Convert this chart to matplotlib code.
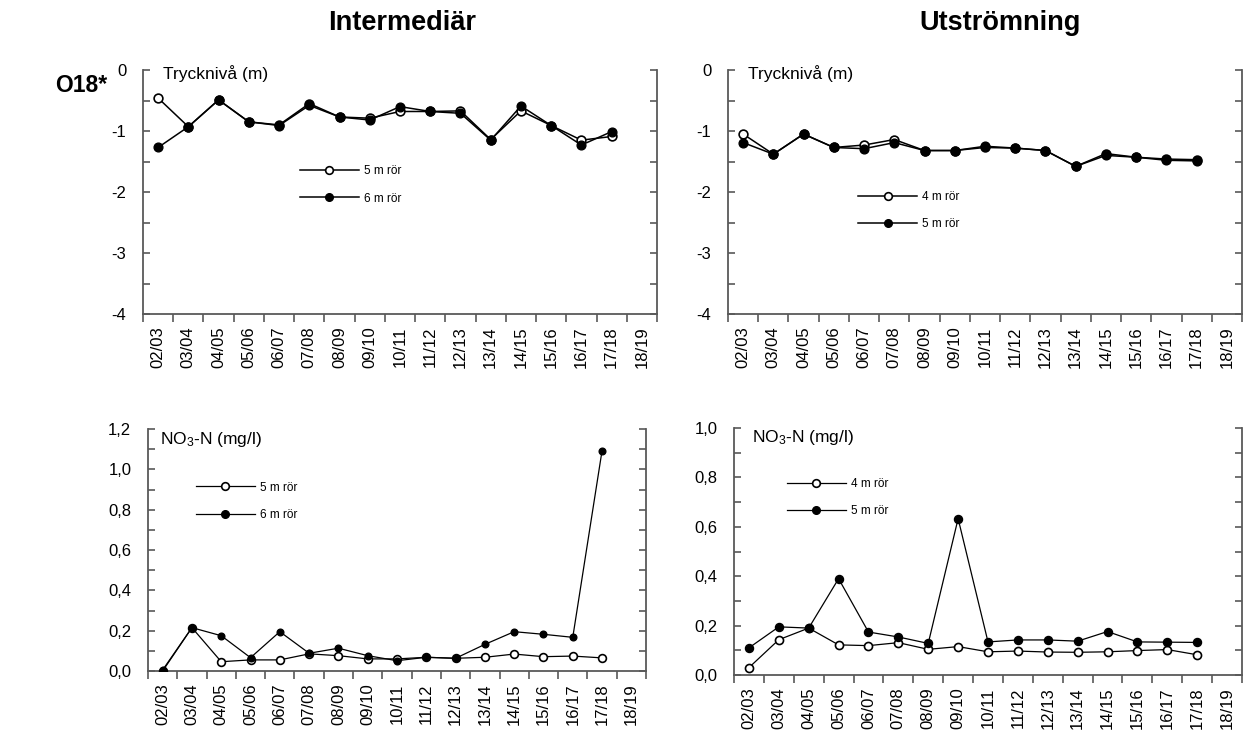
import numpy as np
import matplotlib
matplotlib.use("Agg")
import matplotlib.pyplot as plt
from matplotlib.ticker import MultipleLocator, FixedLocator, FuncFormatter

plt.rcParams['font.family'] = ['Liberation Sans', 'DejaVu Sans']
plt.rcParams['mathtext.fontset'] = 'custom'
plt.rcParams['mathtext.rm'] = 'Liberation Sans'
plt.rcParams['mathtext.it'] = 'Liberation Sans:italic'

years = ['02/03', '03/04', '04/05', '05/06', '06/07', '07/08', '08/09', '09/10',
         '10/11', '11/12', '12/13', '13/14', '14/15', '15/16', '16/17', '17/18', '18/19']

# Intermediär, trycknivå (m)
tryck_int_5m = [-0.46, -0.93, -0.49, -0.85, -0.90, -0.55, -0.77, -0.79,
                -0.68, -0.68, -0.67, -1.14, -0.67, -0.91, -1.15, -1.09]
tryck_int_6m = [-1.27, -0.93, -0.49, -0.85, -0.91, -0.58, -0.77, -0.82,
                -0.60, -0.68, -0.71, -1.15, -0.59, -0.91, -1.23, -1.01]

# Utströmning, trycknivå (m)
tryck_ut_4m = [-1.05, -1.38, -1.05, -1.27, -1.23, -1.14, -1.32, -1.32,
               -1.27, -1.28, -1.32, -1.58, -1.37, -1.43, -1.46, -1.47]
tryck_ut_5m = [-1.19, -1.38, -1.05, -1.27, -1.29, -1.19, -1.32, -1.32,
               -1.25, -1.28, -1.32, -1.58, -1.40, -1.43, -1.48, -1.49]

# Intermediär, NO3-N (mg/l)
no3_int_5m = [0.0, 0.215, 0.046, 0.055, 0.055, 0.085, 0.076, 0.060,
              0.060, 0.068, 0.063, 0.068, 0.084, 0.071, 0.074, 0.065]
no3_int_6m = [0.005, 0.215, 0.175, 0.066, 0.195, 0.088, 0.113, 0.076,
              0.051, 0.068, 0.063, 0.132, 0.195, 0.182, 0.167, 1.093]

# Utströmning, NO3-N (mg/l)
no3_ut_4m = [0.030, 0.143, 0.190, 0.122, 0.119, 0.131, 0.104, 0.115,
             0.094, 0.097, 0.093, 0.092, 0.094, 0.099, 0.103, 0.082]
no3_ut_5m = [0.110, 0.195, 0.190, 0.390, 0.174, 0.154, 0.128, 0.633,
             0.134, 0.142, 0.142, 0.137, 0.176, 0.134, 0.133, 0.132]

SPINE = '#595959'


def setup_axes(ax, ymin, ymax, major, minor, fmt):
    n = len(years)
    ax.set_xlim(0, n)
    ax.set_ylim(ymin, ymax)
    ax.spines['top'].set_visible(False)
    for s in ('left', 'right', 'bottom'):
        ax.spines[s].set_color(SPINE)
        ax.spines[s].set_linewidth(1.3)

    # category boundaries get the tick marks, centres get the labels
    ax.xaxis.set_major_locator(FixedLocator(np.arange(n + 1)))
    ax.xaxis.set_minor_locator(FixedLocator(np.arange(n) + 0.5))
    ax.set_xticklabels([''] * (n + 1))
    ax.set_xticklabels(years, minor=True, rotation=90, fontsize=12)
    ax.tick_params(axis='x', which='major', direction='out', length=6,
                   width=1.2, color=SPINE)
    ax.tick_params(axis='x', which='minor', length=0, pad=9)

    ax.yaxis.set_major_locator(MultipleLocator(major))
    ax.yaxis.set_minor_locator(MultipleLocator(minor))
    ax.yaxis.set_major_formatter(FuncFormatter(fmt))
    ax.tick_params(axis='y', which='both', direction='in', left=True,
                   right=True, length=5, width=1.2, color=SPINE,
                   labelsize=12, pad=12)


def fmt_int(v, pos):
    return '%d' % round(v)


def fmt_dec(v, pos):
    return ('%.1f' % v).replace('.', ',')


def plot_pair(ax, a, b, labels, ms_a, ms_b, lw, leg_xy):
    x = np.arange(len(a)) + 0.5
    ax.plot(x, a, '-o', color='black', lw=lw, ms=ms_a, mfc='white',
            mec='black', mew=1.2, label=labels[0], zorder=3)
    ax.plot(x, b, '-o', color='black', lw=lw, ms=ms_b, mfc='black',
            mec='black', label=labels[1], zorder=4)
    leg = ax.legend(loc='center left', bbox_to_anchor=leg_xy, frameon=False,
                    fontsize=8.5, handlelength=5.0, handletextpad=0.4,
                    labelspacing=1.3, borderpad=0, borderaxespad=0,
                    numpoints=1)
    for h in leg.legend_handles:
        h.set_markersize(5.5)


def main():
    fig = plt.figure(figsize=(12.5, 7.33), dpi=100)

    ax_tl = fig.add_axes([0.1144, 0.5716, 0.4112, 0.3329])
    ax_tr = fig.add_axes([0.5824, 0.5716, 0.4112, 0.3329])
    ax_bl = fig.add_axes([0.1184, 0.0846, 0.3984, 0.3300])
    ax_br = fig.add_axes([0.5872, 0.0791, 0.4064, 0.3370])

    setup_axes(ax_tl, -4, 0, 1, 0.5, fmt_int)
    setup_axes(ax_tr, -4, 0, 1, 0.5, fmt_int)
    setup_axes(ax_bl, 0, 1.2, 0.2, 0.1, fmt_dec)
    setup_axes(ax_br, 0, 1.0, 0.2, 0.1, fmt_dec)

    plot_pair(ax_tl, tryck_int_5m, tryck_int_6m, ['5 m rör', '6 m rör'],
              6.3, 6.3, 1.1, (0.305, 0.529))
    plot_pair(ax_tr, tryck_ut_4m, tryck_ut_5m, ['4 m rör', '5 m rör'],
              6.3, 6.3, 1.1, (0.253, 0.424))
    plot_pair(ax_bl, no3_int_5m, no3_int_6m, ['5 m rör', '6 m rör'],
              5.6, 4.8, 0.9, (0.096, 0.702))
    plot_pair(ax_br, no3_ut_4m, no3_ut_5m, ['4 m rör', '5 m rör'],
              5.8, 5.8, 0.9, (0.104, 0.719))

    ax_tl.text(0.039, 0.985, 'Trycknivå (m)', transform=ax_tl.transAxes,
               fontsize=12.5, va='center', ha='left')
    ax_tr.text(0.039, 0.985, 'Trycknivå (m)', transform=ax_tr.transAxes,
               fontsize=12.5, va='center', ha='left')
    ax_bl.text(0.024, 0.955, 'NO$_3$-N (mg/l)', transform=ax_bl.transAxes,
               fontsize=12.5, va='center', ha='left')
    ax_br.text(0.035, 0.96, 'NO$_3$-N (mg/l)', transform=ax_br.transAxes,
               fontsize=12.5, va='center', ha='left')

    fig.text(0.322, 0.968, 'Intermediär', fontsize=19.5, fontweight='bold',
             ha='center', va='center')
    fig.text(0.80, 0.968, 'Utströmning', fontsize=19.5, fontweight='bold',
             ha='center', va='center')
    fig.text(0.065, 0.884, 'O18*', fontsize=16.5, fontweight='bold',
             ha='center', va='center')

    fig.savefig('out.png', dpi=100)


if __name__ == "__main__":
    main()
